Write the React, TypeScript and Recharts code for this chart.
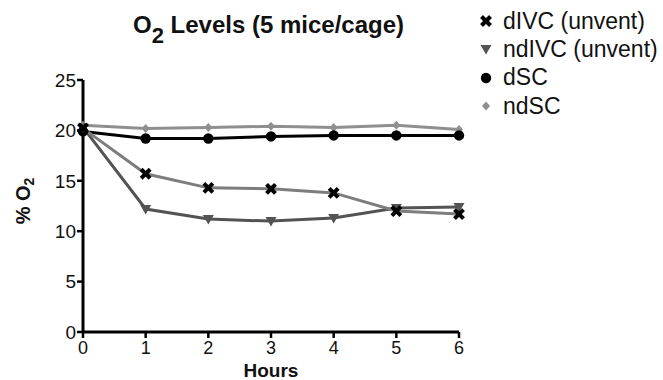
import { LineChart, Line, XAxis, YAxis, Legend, Label } from "recharts";

const hours = [0, 1, 2, 3, 4, 5, 6];
const dIVC = [20.2, 15.7, 14.3, 14.2, 13.8, 12.0, 11.7];
const ndIVC = [20.3, 12.2, 11.2, 11.0, 11.3, 12.3, 12.4];
const dSC = [19.9, 19.2, 19.2, 19.4, 19.5, 19.5, 19.5];
const ndSC = [20.5, 20.2, 20.3, 20.4, 20.3, 20.5, 20.1];
const yTicks = [0, 5, 10, 15, 20, 25];

const data = hours.map((h, i) => ({
  h,
  dIVC: dIVC[i],
  ndIVC: ndIVC[i],
  dSC: dSC[i],
  ndSC: ndSC[i],
}));

const FONT = "'Liberation Sans', Arial, Helvetica, sans-serif";

type Shape = "cross" | "tri" | "circle" | "diamond";

function marker(shape: Shape, color: string, cx: number, cy: number, key?: any) {
  if (shape === "cross") {
    const s = 4.5;
    return (
      <g key={key}>
        <line x1={cx - s} y1={cy - s} x2={cx + s} y2={cy + s} stroke={color} strokeWidth={4} />
        <line x1={cx - s} y1={cy + s} x2={cx + s} y2={cy - s} stroke={color} strokeWidth={4} />
      </g>
    );
  }
  if (shape === "tri") {
    return (
      <polygon
        key={key}
        points={`${cx - 5.5},${cy - 4} ${cx + 5.5},${cy - 4} ${cx},${cy + 5.5}`}
        fill={color}
      />
    );
  }
  if (shape === "circle") {
    return <circle key={key} cx={cx} cy={cy} r={5.2} fill={color} />;
  }
  return (
    <polygon
      key={key}
      points={`${cx},${cy - 4.5} ${cx + 4},${cy} ${cx},${cy + 4.5} ${cx - 4},${cy}`}
      fill={color}
    />
  );
}

const dotFor = (shape: Shape, color: string) => (p: any) =>
  marker(shape, color, p.cx, p.cy, `${shape}-${p.index}`);

const series: { key: string; name: string; line: string; mark: string; shape: Shape }[] = [
  { key: "dIVC", name: "dIVC (unvent)", line: "#7d7d7d", mark: "#000", shape: "cross" },
  { key: "ndIVC", name: "ndIVC (unvent)", line: "#535353", mark: "#535353", shape: "tri" },
  { key: "dSC", name: "dSC", line: "#000", mark: "#000", shape: "circle" },
  { key: "ndSC", name: "ndSC", line: "#8f8f8f", mark: "#8f8f8f", shape: "diamond" },
];

function LegendBox() {
  return (
    <div style={{ fontFamily: FONT, fontSize: 23, color: "#111" }}>
      {series.map((s) => (
        <div key={s.key} style={{ display: "flex", alignItems: "center", height: 28.3 }}>
          <svg width={16} height={16} style={{ marginRight: 9 }}>
            {marker(s.shape, s.mark, 8, 8)}
          </svg>
          <span style={{ whiteSpace: "nowrap" }}>{s.name}</span>
        </div>
      ))}
    </div>
  );
}

function YLabel() {
  const cx = 30;
  const cy = 201;
  return (
    <text
      x={cx}
      y={cy}
      transform={`rotate(-90 ${cx} ${cy})`}
      textAnchor="middle"
      fontFamily={FONT}
      fontWeight="bold"
      fontSize={20}
      fill="#111"
    >
      % O
      <tspan fontSize={14} dy={4}>2</tspan>
    </text>
  );
}

export default function App() {
  return (
    <div style={{ position: "absolute", left: 0, top: 0, width: 663, height: 380, background: "#fff" }}>
      <div
        style={{
          position: "absolute",
          left: 133,
          top: 11,
          lineHeight: "28px",
          whiteSpace: "nowrap",
          fontFamily: FONT,
          fontWeight: "bold",
          fontSize: 24,
          color: "#111",
          zIndex: 2,
        }}
      >
        O
        <span style={{ position: "relative", top: 10, fontSize: 22, lineHeight: 0 }}>2</span> Levels (5
        mice/cage)
      </div>
      <LineChart
        width={663}
        height={380}
        data={data}
        margin={{ top: 80, right: 204, bottom: 8, left: 0 }}
      >
        <XAxis
          dataKey="h"
          type="number"
          domain={[0, 6]}
          ticks={hours}
          axisLine={{ stroke: "#000", strokeWidth: 3 }}
          tickLine={{ stroke: "#000", strokeWidth: 2.5 }}
          tickSize={6}
          tickMargin={3}
          tick={{ fontSize: 18, fill: "#111", fontFamily: FONT }}
          height={40}
        >
          <Label
            value="Hours"
            position="insideBottom"
            offset={-5}
            style={{ fontFamily: FONT, fontWeight: "bold", fontSize: 19, fill: "#111" }}
          />
        </XAxis>
        <YAxis
          type="number"
          domain={[0, 25]}
          ticks={yTicks}
          width={83}
          axisLine={{ stroke: "#000", strokeWidth: 3 }}
          tickLine={{ stroke: "#000", strokeWidth: 2.5 }}
          tickSize={6}
          tickMargin={1}
          tick={{ fontSize: 19, fill: "#111", fontFamily: FONT }}
        >
          <Label content={YLabel} />
        </YAxis>
        <Legend
          verticalAlign="middle"
          align="center"
          layout="horizontal"
          content={() => <LegendBox />}
          wrapperStyle={{ position: "absolute", left: 478, top: 7, width: 185 }}
        />
        {[...series].reverse().map((s) => (
          <Line
            key={s.key}
            dataKey={s.key}
            name={s.name}
            stroke={s.line}
            strokeWidth={3}
            dot={dotFor(s.shape, s.mark)}
            activeDot={false}
            isAnimationActive={false}
          />
        ))}
      </LineChart>
    </div>
  );
}
